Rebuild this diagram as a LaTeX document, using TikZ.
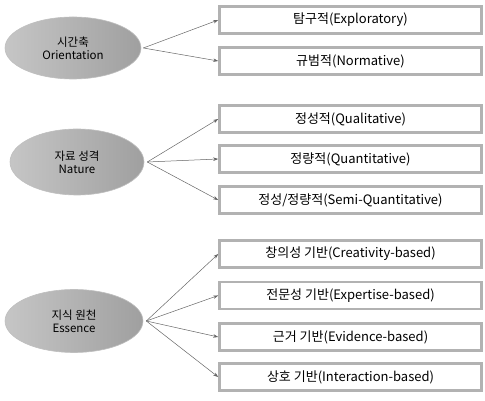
\documentclass[tikz,border=0pt]{standalone}
\usepackage{fontspec}
\setmainfont{Noto Sans CJK KR}
\usetikzlibrary{shapes.geometric,arrows.meta}
\tikzset{
  cat/.style={ellipse, draw=gray!50, line width=0.6pt, left color=gray!45, right color=gray!75,
    align=center, font=\fontsize{11.5}{13}\selectfont, inner sep=0pt, text=black},
  item/.style={rectangle, draw=gray!60, line width=2.6pt, fill=white, minimum width=262pt,
    minimum height=27pt, font=\fontsize{13}{14}\selectfont, inner sep=0pt},
  link/.style={draw=gray!80!black, line width=0.5pt, -{Stealth[length=5pt,width=3.5pt]}}
}
\begin{document}
\begin{tikzpicture}[x=1pt,y=1pt]
\useasboundingbox (0,0) rectangle (485,401);
\node[cat, minimum width=136pt, minimum height=62pt] (e1) at (73,353) {시간축\\Orientation};
\node[cat, minimum width=134pt, minimum height=66pt] (e2) at (77,239) {자료 성격\\Nature};
\node[cat, minimum width=138pt, minimum height=63pt] (e3) at (74,80) {지식 원천\\Essence};

\node[item] (b1) at (350.5,381) {탐구적(Exploratory)};
\node[item] (b2) at (350.5,340) {규범적(Normative)};
\node[item] (b3) at (350.5,282) {정성적(Qualitative)};
\node[item] (b4) at (350.5,242) {정량적(Quantitative)};
\node[item] (b5) at (350.5,201) {정성/정량적(Semi-Quantitative)};
\node[item] (b6) at (350.5,147) {창의성 기반(Creativity-based)};
\node[item] (b7) at (350.5,105.5) {전문성 기반(Expertise-based)};
\node[item] (b8) at (350.5,64) {근거 기반(Evidence-based)};
\node[item] (b9) at (350.5,24) {상호 기반(Interaction-based)};

\coordinate (t1) at ([xshift=2pt]e1.east);
\coordinate (t2) at ([xshift=3pt]e2.east);
\coordinate (t3) at ([xshift=3pt]e3.east);
\foreach \b in {b1,b2} \draw[link] (t1) -- (\b.west);
\foreach \b in {b3,b4,b5} \draw[link] (t2) -- (\b.west);
\foreach \b in {b6,b7,b8,b9} \draw[link] (t3) -- (\b.west);
\end{tikzpicture}
\end{document}
